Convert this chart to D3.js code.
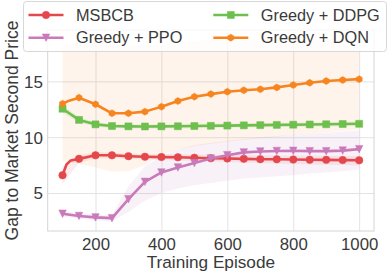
<!DOCTYPE html>
<html><head><meta charset="utf-8">
<script src="https://cdn.jsdelivr.net/npm/d3@7"></script>
<style>
html,body{margin:0;padding:0;background:#fff;}
svg{display:block;font-family:"Liberation Sans",Arial,Helvetica,sans-serif;}
</style></head>
<body>
<svg id="chart" width="388" height="273"></svg>
<script>
// ---- data ----
const episodes = [100,150,200,250,300,350,400,450,500,550,600,650,700,750,800,850,900,950,1000];
const xTicks = [200,400,600,800,1000];
const yTicks = [5,10,15];
const seriesNames = ["MSBCB","Greedy + PPO","Greedy + DDPG","Greedy + DQN"];

const msbcb      = [6.6,8.06,8.38,8.38,8.3,8.25,8.22,8.2,8.16,8.12,8.09,8.06,8.03,8.02,8.0,7.98,7.97,7.95,7.93];
const msbcbLow   = [5.8,7.7,8.1,8.12,8.05,8.0,7.95,7.92,7.88,7.83,7.78,7.73,7.68,7.64,7.6,7.56,7.53,7.5,7.47];
const msbcbHigh  = [7.4,8.4,8.65,8.62,8.55,8.5,8.48,8.47,8.45,8.42,8.4,8.38,8.37,8.36,8.35,8.34,8.33,8.32,8.31];
const msbcbEarlyX = [112,125];
const msbcbEarly  = [7.55,7.92];

const ppo        = [3.15,2.95,2.82,2.75,4.45,6.0,6.84,7.29,7.68,8.09,8.39,8.64,8.72,8.77,8.78,8.75,8.75,8.8,8.93];
const ppoLow     = [2.9,2.7,2.55,2.45,3.3,4.3,5.0,5.4,5.7,5.9,6.1,6.3,6.4,6.5,6.6,6.75,6.85,6.95,7.1];
const ppoHigh    = [3.4,3.2,3.05,3.0,5.6,7.4,8.3,8.9,9.3,9.5,9.7,9.85,10.0,10.1,10.2,10.3,10.4,10.5,10.6];

const ddpg       = [12.55,11.55,11.15,11.0,10.97,10.96,10.97,10.98,11.0,11.02,11.04,11.06,11.08,11.1,11.12,11.14,11.16,11.18,11.2];
const ddpgLow    = [12.2,11.3,10.95,10.8,10.77,10.76,10.77,10.78,10.8,10.82,10.84,10.86,10.88,10.9,10.92,10.94,10.96,10.98,11.0];
const ddpgHigh   = [12.9,11.8,11.35,11.2,11.17,11.16,11.17,11.18,11.2,11.22,11.24,11.26,11.28,11.3,11.32,11.34,11.36,11.38,11.4];

const dqn        = [13.0,13.54,12.95,12.14,12.14,12.29,12.73,13.24,13.63,13.86,14.07,14.2,14.29,14.46,14.67,14.87,15.03,15.12,15.2];
const dqnLow     = [7.9,7.6,7.3,6.9,6.95,7.5,8.4,8.9,9.2,9.4,9.6,9.75,9.9,10.05,10.2,10.3,10.45,10.55,10.7];
const dqnHigh    = [18.3,18.5,18.6,18.4,18.2,18.2,18.3,18.5,18.6,18.7,18.7,18.8,18.8,18.8,18.8,18.8,18.8,18.8,18.8];
const dqnEarlyX  = [120];
const dqnEarly   = [13.27];

const colors = {red:"#e4484d", purple:"#c97ab9", green:"#6dbf4e", orange:"#f7851f"};

// ---- layout ----
const svg = d3.select("#chart");
const W = 388, H = 273;
const plot = {left:47.7, right:374, top:30, bottom:231};
const x = d3.scaleLinear().domain([55,1045]).range([plot.left, plot.right]);
const y = d3.scaleLinear().domain([1.6,19.6]).range([plot.bottom, plot.top]);
const font = '"Liberation Sans",Arial,Helvetica,sans-serif';
const textColor = "#3a3a3a";

svg.append("rect").attr("width",W).attr("height",H).attr("fill","#fff");

// grid
const gx = d3.axisBottom(x).tickValues(xTicks).tickSize(-(plot.bottom-plot.top)).tickFormat("");
svg.append("g").attr("transform",`translate(0,${plot.bottom})`).call(gx)
  .call(g=>g.select(".domain").remove())
  .call(g=>g.selectAll("line").attr("stroke","#e3e3e3").attr("stroke-width",1));
const gy = d3.axisLeft(y).tickValues(yTicks).tickSize(-(plot.right-plot.left)).tickFormat("");
svg.append("g").attr("transform",`translate(${plot.left},0)`).call(gy)
  .call(g=>g.select(".domain").remove())
  .call(g=>g.selectAll("line").attr("stroke","#e3e3e3").attr("stroke-width",1));

// spines
svg.append("rect").attr("x",plot.left).attr("y",plot.top)
  .attr("width",plot.right-plot.left).attr("height",plot.bottom-plot.top)
  .attr("fill","none").attr("stroke","#d4d4d4").attr("stroke-width",1);

// tick labels
const xl = d3.axisBottom(x).tickValues(xTicks).tickSize(0).tickPadding(0).tickFormat(d3.format("d"));
svg.append("g").attr("transform",`translate(0,${plot.bottom})`).call(xl)
  .call(g=>g.select(".domain").remove())
  .call(g=>g.selectAll("text").attr("y",18.7).attr("dy",0).attr("font-size",16.8)
      .attr("font-family",font).attr("fill",textColor));
const yl = d3.axisLeft(y).tickValues(yTicks).tickSize(0).tickPadding(4.7).tickFormat(d3.format("d"));
svg.append("g").attr("transform",`translate(${plot.left},0)`).call(yl)
  .call(g=>g.select(".domain").remove())
  .call(g=>g.selectAll("text").attr("font-size",17).attr("dy","0.35em")
      .attr("font-family",font).attr("fill",textColor));

// axis labels
svg.append("text").attr("x",(plot.left+plot.right)/2).attr("y",268.3)
  .attr("text-anchor","middle").attr("font-size",17.2).attr("font-family",font)
  .attr("fill",textColor).text("Training Episode");
svg.append("text").attr("transform",`translate(17.5,${(plot.top+plot.bottom)/2}) rotate(-90)`)
  .attr("text-anchor","middle").attr("font-size",17.5).attr("font-family",font)
  .attr("fill",textColor).text("Gap to Market Second Price");

// bands
const clip = svg.append("clipPath").attr("id","clip").append("rect")
  .attr("x",plot.left).attr("y",plot.top).attr("width",plot.right-plot.left).attr("height",plot.bottom-plot.top);
const area = d3.area().x(d=>x(d[0])).y0(d=>y(d[1])).y1(d=>y(d[2]));
function band(lo,hi,color,op){
  svg.append("path").attr("clip-path","url(#clip)")
    .attr("d",area(episodes.map((e,i)=>[e,lo[i],hi[i]])))
    .attr("fill",color).attr("fill-opacity",op).attr("stroke","none");
}
band(dqnLow,dqnHigh,colors.orange,0.09);
band(ddpgLow,ddpgHigh,colors.green,0.12);
band(ppoLow,ppoHigh,colors.purple,0.1);
band(msbcbLow,msbcbHigh,colors.red,0.1);

// markers
function markerPath(shape, s){
  if(shape==="circle"){ return d3.symbol(d3.symbolCircle, Math.PI*s*s/4)(); }
  if(shape==="square"){ const h=s/2; return `M${-h},${-h}H${h}V${h}H${-h}Z`; }
  if(shape==="tri"){ const h=s/2; return `M0,${h}L${-h},${-h}L${h},${-h}Z`; }
  if(shape==="hex"){ const r=s/2; let p=[]; for(let k=0;k<6;k++){const a=Math.PI/2+k*Math.PI/3; p.push([r*Math.cos(a), -r*Math.sin(a)]);} return "M"+p.map(q=>q.join(",")).join("L")+"Z"; }
}
const line = d3.line().x(d=>x(d[0])).y(d=>y(d[1]));
function series(vals, color, shape, size, extraX, extraV){
  let pts = episodes.map((e,i)=>[e,vals[i]]);
  if(extraX){ extraX.forEach((e,i)=>pts.push([e,extraV[i]])); pts.sort((a,b)=>a[0]-b[0]); }
  svg.append("path").attr("d",line(pts)).attr("fill","none").attr("stroke",color)
    .attr("stroke-width",2.6).attr("stroke-linejoin","round").attr("stroke-linecap","round");
  svg.append("g").selectAll("path").data(episodes).join("path")
    .attr("transform",(e,i)=>`translate(${x(e)},${y(vals[i])})`)
    .attr("d",markerPath(shape,size)).attr("fill",color).attr("stroke",color).attr("stroke-width",0.5);
}
series(msbcb, colors.red, "circle", 7.5, msbcbEarlyX, msbcbEarly);
series(ppo, colors.purple, "tri", 7.5);
series(ddpg, colors.green, "square", 7);
series(dqn, colors.orange, "hex", 7, dqnEarlyX, dqnEarly);

// legend
const leg = svg.append("g");
leg.append("rect").attr("x",23.5).attr("y",1.5).attr("width",363).attr("height",50).attr("rx",3)
  .attr("fill","#fff").attr("fill-opacity",0.8).attr("stroke","#d8d8d8").attr("stroke-width",1);
const legItems = [
  {name:seriesNames[0], color:colors.red, shape:"circle", size:7.5, lx:28.5, ly:15},
  {name:seriesNames[1], color:colors.purple, shape:"tri", size:7.5, lx:28.5, ly:37.7},
  {name:seriesNames[2], color:colors.green, shape:"square", size:7, lx:213.3, ly:15},
  {name:seriesNames[3], color:colors.orange, shape:"hex", size:7, lx:213.3, ly:37.7}
];
legItems.forEach(it=>{
  const g = leg.append("g");
  g.append("line").attr("x1",it.lx).attr("x2",it.lx+35).attr("y1",it.ly).attr("y2",it.ly)
    .attr("stroke",it.color).attr("stroke-width",2.6);
  g.append("path").attr("transform",`translate(${it.lx+17.5},${it.ly})`).attr("d",markerPath(it.shape,it.size))
    .attr("fill",it.color).attr("stroke",it.color).attr("stroke-width",0.5);
  g.append("text").attr("x",it.lx+47.5).attr("y",it.ly).attr("dy","0.35em")
    .attr("font-size",16.3).attr("font-family",font).attr("fill",textColor).text(it.name);
});
</script>
</body></html>
